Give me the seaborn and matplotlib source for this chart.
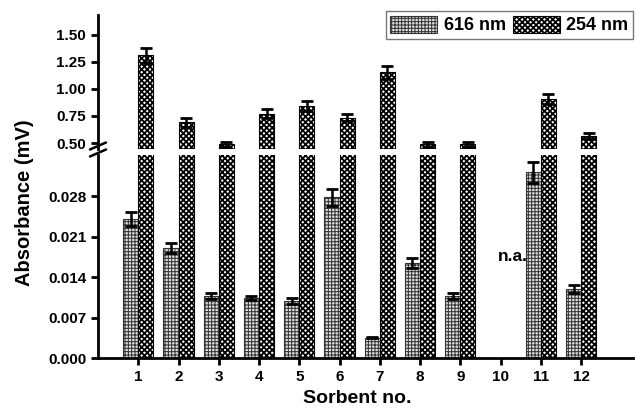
import numpy as np
import pandas as pd
import matplotlib
matplotlib.use("Agg")
import matplotlib.pyplot as plt
import seaborn as sns
from matplotlib.patches import Patch

sorbents = ["1", "2", "3", "4", "5", "6", "7", "8", "9", "10", "11", "12"]
abs_616 = [0.0240, 0.0190, 0.0107, 0.0104, 0.0099, 0.0278, 0.0035, 0.0164, 0.0107, np.nan, 0.0321, 0.0119]
err_616 = [0.0012, 0.0009, 0.0005, 0.0004, 0.0005, 0.0015, 0.0001, 0.0009, 0.0005, np.nan, 0.0018, 0.0007]
abs_254 = [1.310, 0.690, 0.490, 0.772, 0.842, 0.736, 1.154, 0.487, 0.487, np.nan, 0.910, 0.561]
err_254 = [0.066, 0.038, 0.022, 0.038, 0.050, 0.035, 0.062, 0.020, 0.020, np.nan, 0.046, 0.028]
series = ["616 nm", "254 nm"]
lower_ticks = [0.000, 0.007, 0.014, 0.021, 0.028]
upper_ticks = [0.50, 0.75, 1.00, 1.25, 1.50]

sns.set_style("ticks")
plt.rcParams["font.family"] = ["Liberation Sans", "DejaVu Sans"]
plt.rcParams["font.weight"] = "bold"
plt.rcParams["hatch.linewidth"] = 0.7
for k in ("text.color", "axes.labelcolor", "xtick.color", "ytick.color", "axes.edgecolor"):
    plt.rcParams[k] = "black"

df = pd.DataFrame({
    "sorbent": sorbents * 2,
    "value": abs_616 + abs_254,
    "wl": [series[0]] * 12 + [series[1]] * 12,
})
errs = {series[0]: err_616, series[1]: err_254}
vals = {series[0]: abs_616, series[1]: abs_254}

fig = plt.figure(figsize=(6.38, 4.17), dpi=100)
L, R = 98 / 638, 633 / 638
ax_lo = fig.add_axes([L, 1 - 358 / 417, R - L, (358 - 155) / 417])
ax_hi = fig.add_axes([L, 1 - 149 / 417, R - L, (149 - 15) / 417])

styles = {series[0]: dict(fc="#dcdcdc", ec="#333333", hatch="+++++", hlw=0.7),
          series[1]: dict(fc="white", ec="black", hatch="xxxxxx", hlw=1.3)}


def style_patch(p, st):
    p.set_facecolor(st["fc"])
    p.set_edgecolor(st["ec"])
    p.set_hatch(st["hatch"])
    p.set_linewidth(0.8)
    if hasattr(p, "set_hatch_linewidth"):
        p.set_hatch_linewidth(st["hlw"])
    else:
        p._hatch_linewidth = st["hlw"]


for ax in (ax_lo, ax_hi):
    sns.barplot(data=df, x="sorbent", y="value", hue="wl", order=sorbents,
                hue_order=series, width=0.75, errorbar=None, ax=ax, legend=False)
    for cont, name in zip(ax.containers, series):
        st = styles[name]
        xs, ys, es = [], [], []
        for p in cont.patches:
            style_patch(p, st)
            cx = p.get_x() + p.get_width() / 2
            idx = int(round(cx))
            v = vals[name][idx]
            if np.isnan(v):
                continue
            xs.append(cx); ys.append(v); es.append(errs[name][idx])
        ax.errorbar(xs, ys, yerr=es, fmt="none", ecolor="black",
                    elinewidth=1.8, capsize=4.5, capthick=2, zorder=5)
    ax.set_xlim(-1.0, 12.29)
    ax.set_xlabel("")
    ax.set_ylabel("")
    for s in ("top", "right"):
        ax.spines[s].set_visible(False)
    ax.spines["left"].set_linewidth(2)
    ax.spines["bottom"].set_linewidth(2)
    ax.tick_params(axis="both", direction="out", width=2, length=5, labelsize=11)

ax_lo.set_ylim(0, 0.0351)
ax_lo.set_yticks(lower_ticks)
ax_lo.set_yticklabels([f"{t:.3f}" for t in lower_ticks], fontweight="bold")
ax_lo.set_xticks(range(len(sorbents)))
ax_lo.set_xticklabels(sorbents, fontweight="bold")
ax_lo.set_xlabel("Sorbent no.", fontsize=14, fontweight="bold")
ax_lo.xaxis.set_label_coords((357 - 98) / 535, -0.16)

ax_hi.set_ylim(0.445, 1.683)
ax_hi.set_yticks(upper_ticks)
ax_hi.set_yticklabels([f"{t:.2f}" for t in upper_ticks], fontweight="bold")
ax_hi.spines["bottom"].set_visible(False)
ax_hi.tick_params(axis="x", bottom=False, labelbottom=False)

# break marks on the left spine
for yy in (146, 153):
    fig.add_artist(plt.Line2D([(98 - 8) / 638, (98 + 8) / 638],
                              [1 - (yy + 3.5) / 417, 1 - (yy - 3.5) / 417],
                              color="black", lw=1.8))

ax_lo.text(9.3, 0.0176, "n.a.", ha="center", va="center", fontsize=12.5, fontweight="bold")

fig.text(25 / 638, 1 - 203 / 417, "Absorbance (mV)", rotation=90, ha="center",
         va="center", fontsize=14.5, fontweight="bold")

handles = []
for n in series:
    h = Patch(facecolor=styles[n]["fc"], edgecolor=styles[n]["ec"], hatch=styles[n]["hatch"], lw=0.8)
    handles.append(h)
leg = fig.legend(handles, series, ncol=2, loc="upper right",
                 bbox_to_anchor=(633 / 638, 1 - 11 / 417), frameon=True, fancybox=False,
                 prop=dict(size=13, weight="bold"), handlelength=2.6, handleheight=1.1,
                 handletextpad=0.35, columnspacing=0.4, borderpad=0.25, borderaxespad=0)
leg.get_frame().set_edgecolor("#555555")
leg.get_frame().set_linewidth(1)
for h, n in zip(leg.get_patches(), series):
    style_patch(h, styles[n])

fig.savefig("out.png", dpi=100)
